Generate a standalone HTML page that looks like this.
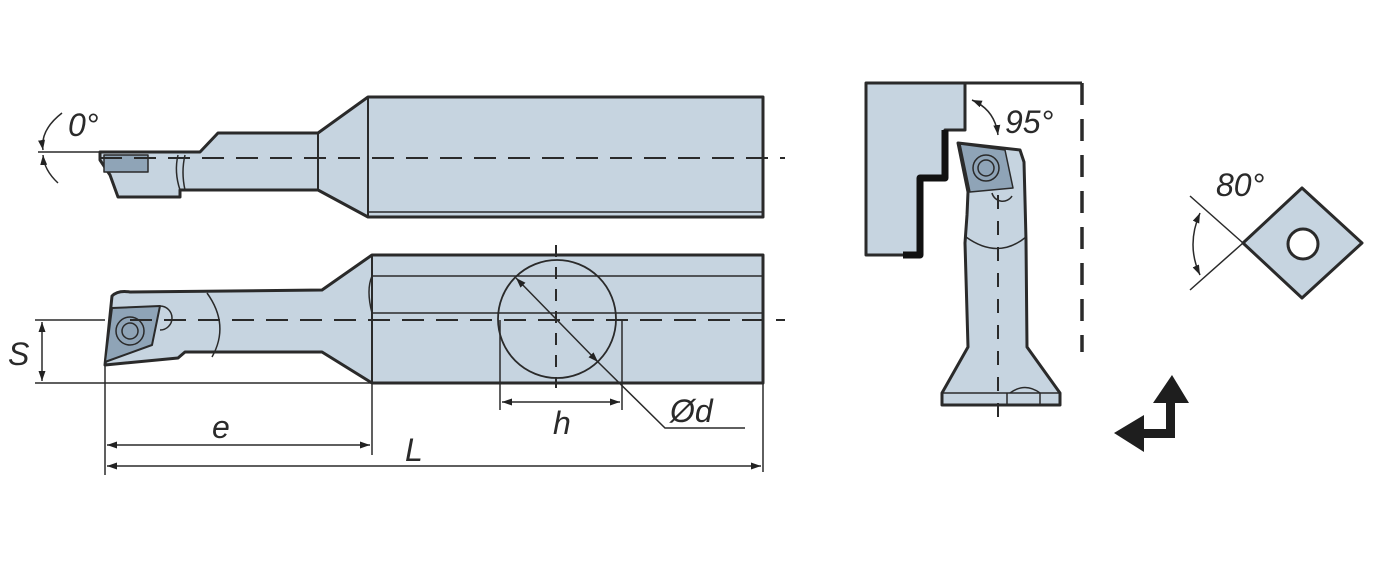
<!DOCTYPE html>
<html><head><style>html,body{margin:0;padding:0;background:#fff}svg{display:block}</style></head>
<body>
<svg width="1378" height="561" viewBox="0 0 1378 561" xmlns="http://www.w3.org/2000/svg" font-family="Liberation Sans, sans-serif" font-style="italic">
<defs>
<marker id="a" viewBox="0 0 10 10" refX="10" refY="5" markerWidth="10" markerHeight="10" markerUnits="userSpaceOnUse" orient="auto-start-reverse"><path d="M0,1.5 L10,5 L0,8.5z" fill="#222"/></marker>
</defs>
<g stroke="#2a2a2a" stroke-width="3" fill="#c6d4e0" stroke-linejoin="round">
<!-- top view -->
<path d="M100,152 L200,152 L218,133 L318,133 L368,97 L763,97 L763,217 L368,217 L318,190 L180,190 L180,197 L118,197 L110,175 L100,160 Z"/>
<line x1="368" y1="97" x2="368" y2="217" stroke-width="2"/>
<line x1="368" y1="212" x2="763" y2="212" stroke-width="1.5"/>
<line x1="318" y1="133" x2="318" y2="190" stroke-width="2"/>
<path d="M178,155 Q174,172 180,190 M185,155 Q181,172 185,190" fill="none" stroke-width="1.5"/>
<rect x="104" y="155" width="44" height="17" fill="#8fa4b7" stroke-width="1.5"/>
<!-- bottom view -->
<path d="M112,296 Q118,290 130,292 L322,290 L372,255 L763,255 L763,383 L372,383 L322,352 L185,352 L178,358 L105,365 Z"/>
<line x1="372" y1="255" x2="372" y2="383" stroke-width="2"/>
<line x1="372" y1="276" x2="763" y2="276" stroke-width="1.5"/>
<line x1="372" y1="313" x2="763" y2="313" stroke-width="1.5"/>
<path d="M372,276 Q366,290 372,313" fill="none" stroke-width="1.5"/>
<path d="M207,293 Q230,325 212,357" fill="none" stroke-width="1.5"/>
<path d="M160,306 A10,10 0 0 1 160,330" fill="#c6d4e0" stroke-width="1.5"/>
<path d="M112,308 L160,306 L152,345 L105,362 Z" fill="#8fa4b7" stroke-width="2"/>
<circle cx="130" cy="331" r="14" fill="#8fa4b7" stroke-width="1.5"/>
<circle cx="130" cy="331" r="8" fill="#8fa4b7" stroke-width="1.5"/>
<circle cx="557" cy="319" r="59" fill="none" stroke-width="1.8"/>
<!-- side view workpiece -->
<path d="M866,83 L965,83 L965,130 L945,130 L945,178 L920,178 L920,255 L903,255 L866,255 Z"/>
<path d="M945,130 L945,178 L920,178 L920,255 L903,255" fill="none" stroke="#111" stroke-width="7"/>
<line x1="965" y1="83" x2="1082" y2="83" stroke-width="3"/>
<!-- side tool -->
<path d="M958,143 L1020,150 L1024,162 L1025,200 L1026,240 L1027,347 L1060,393 L1060,405 L942,405 L942,393 L968,347 L965,243 L967,215 L968,192 Z"/>
<path d="M966,237 Q998,260 1026,237" fill="none" stroke-width="1.5"/>
<line x1="942" y1="393" x2="1060" y2="393" stroke-width="1.5"/>
<path d="M1010,393 Q1025,382 1040,393 M1040,393 L1040,405 M1007,393 L1007,405" fill="none" stroke-width="1.5"/>
<path d="M960,144 L1005,150 L1013,188 L970,192 Z" fill="#8fa4b7" stroke-width="1.5"/>
<circle cx="986" cy="168" r="13" fill="#8fa4b7" stroke-width="1.5"/>
<circle cx="986" cy="168" r="8" fill="#8fa4b7" stroke-width="1.5"/>
<path d="M992,193 A11,11 0 0 0 1012,196" fill="none" stroke-width="1.5"/>
<!-- insert -->
<path d="M1243,243 L1302,188 L1362,243 L1302,298 Z" stroke-width="3"/>
<circle cx="1303" cy="244" r="15" fill="#fff" stroke-width="3"/>
</g>
<g stroke="#2a2a2a" stroke-width="2" fill="none">
<line x1="100" y1="158" x2="785" y2="158" stroke-dasharray="22,12"/>
<line x1="130" y1="320" x2="785" y2="320" stroke-dasharray="22,12"/>
<line x1="556" y1="245" x2="556" y2="388" stroke-dasharray="12,10"/>
<line x1="998" y1="195" x2="998" y2="420" stroke-dasharray="14,12"/>
<line x1="1082" y1="83" x2="1082" y2="352" stroke-width="3.5" stroke-dasharray="22,14"/>
<line x1="38" y1="152" x2="100" y2="152" stroke-width="1.5"/>
<path d="M62,113 Q40,130 43,150" marker-end="url(#a)" stroke-width="1.5"/>
<path d="M58,183 Q44,170 43,155" marker-end="url(#a)" stroke-width="1.5"/>
<line x1="35" y1="320" x2="105" y2="320" stroke-width="1.5"/>
<line x1="35" y1="383" x2="372" y2="383" stroke-width="1.5"/>
<line x1="42" y1="322" x2="42" y2="381" marker-start="url(#a)" marker-end="url(#a)" stroke-width="1.5"/>
<line x1="105" y1="365" x2="105" y2="475" stroke-width="1.5"/>
<line x1="372" y1="383" x2="372" y2="455" stroke-width="1.5"/>
<line x1="763" y1="383" x2="763" y2="472" stroke-width="1.5"/>
<line x1="500" y1="320" x2="500" y2="410" stroke-width="1.5"/>
<line x1="622" y1="320" x2="622" y2="410" stroke-width="1.5"/>
<line x1="107" y1="445" x2="370" y2="445" marker-start="url(#a)" marker-end="url(#a)" stroke-width="1.5"/>
<line x1="107" y1="466" x2="761" y2="466" marker-start="url(#a)" marker-end="url(#a)" stroke-width="1.5"/>
<line x1="502" y1="402" x2="620" y2="402" marker-start="url(#a)" marker-end="url(#a)" stroke-width="1.5"/>
<line x1="516" y1="278" x2="598" y2="362" marker-start="url(#a)" marker-end="url(#a)" stroke-width="1.5"/>
<polyline points="598,362 665,428 745,428" stroke-width="1.5"/>
<path d="M972,100 Q995,110 998,135" marker-start="url(#a)" marker-end="url(#a)" stroke-width="1.5"/>
<line x1="1190" y1="196" x2="1243" y2="243" stroke-width="1.5"/>
<line x1="1190" y1="290" x2="1243" y2="243" stroke-width="1.5"/>
<path d="M1200,213 Q1186,245 1200,275" marker-start="url(#a)" marker-end="url(#a)" stroke-width="1.5"/>
</g>
<g fill="#1e1e1e">
<path d="M1153,403 L1189,403 L1172,375 Z"/>
<rect x="1166" y="402" width="9" height="36"/>
<rect x="1140" y="429" width="35" height="9"/>
<path d="M1114,433 L1144,415 L1144,452 Z"/>
</g>
<g fill="#2a2a2a" font-size="32">
<text x="68" y="136">0°</text>
<text x="8" y="365">S</text>
<text x="212" y="438">e</text>
<text x="405" y="461">L</text>
<text x="553" y="434">h</text>
<text x="670" y="422">Ød</text>
<text x="1005" y="133">95°</text>
<text x="1216" y="196">80°</text>
</g>
</svg>
</body></html>
